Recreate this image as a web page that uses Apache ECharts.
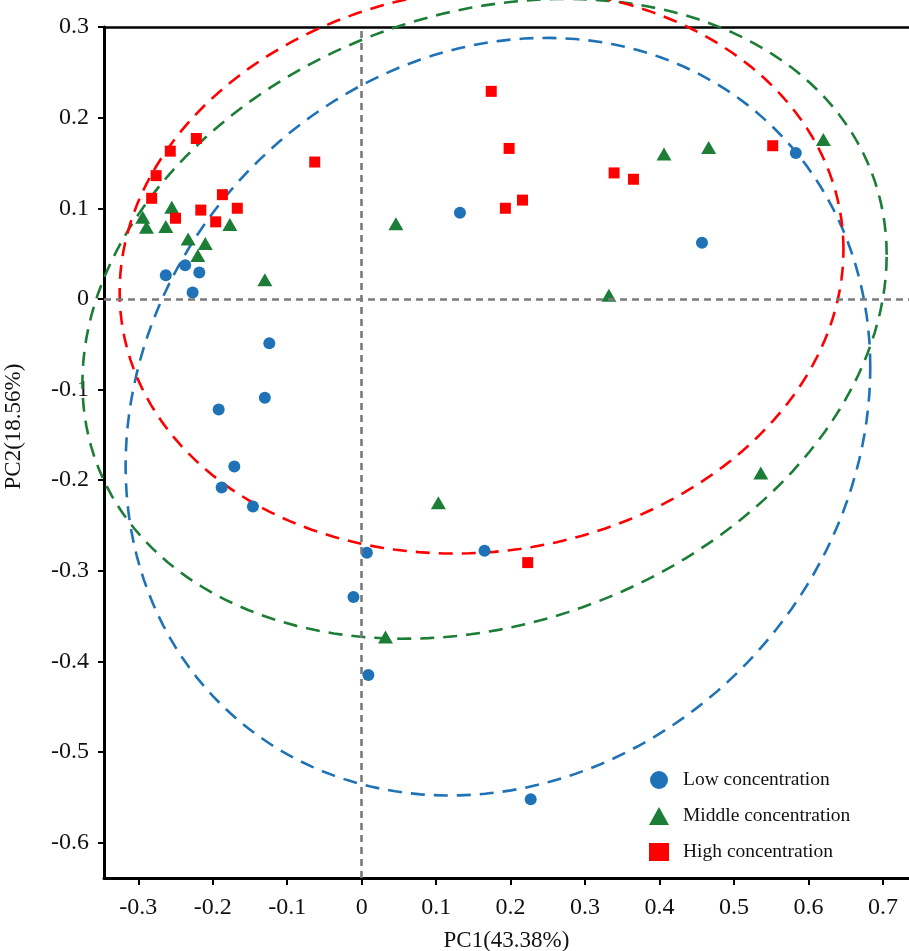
<!DOCTYPE html>
<html>
<head>
<meta charset="utf-8">
<title>PCA</title>
<script src="https://cdn.jsdelivr.net/npm/echarts@6/dist/echarts.min.js"></script>
<style>
  html,body{margin:0;padding:0;background:#fff;}
  #pca{width:909px;height:951px;}
</style>
</head>
<body>
<div id="pca"></div>
<script>
// 坐标轴刻度
var xTicks=[-0.3,-0.2,-0.1,0,0.1,0.2,0.3,0.4,0.5,0.6,0.7];
var yTicks=[-0.6,-0.5,-0.4,-0.3,-0.2,-0.1,0,0.1,0.2,0.3];

// 低浓度
var lowPts=[
  [-0.263,0.026],[-0.237,0.037],[-0.218,0.029],[-0.227,0.007],
  [-0.124,-0.049],[-0.130,-0.109],[-0.192,-0.122],[-0.171,-0.185],
  [-0.188,-0.208],[-0.146,-0.229],[0.007,-0.280],[-0.011,-0.329],
  [0.009,-0.415],[0.165,-0.278],[0.227,-0.552],[0.132,0.095],
  [0.457,0.062],[0.583,0.161]
];
// 中浓度
var midPts=[
  [-0.294,0.090],[-0.289,0.079],[-0.255,0.101],[-0.263,0.080],
  [-0.177,0.082],[-0.233,0.066],[-0.210,0.061],[-0.220,0.048],
  [-0.130,0.021],[0.046,0.083],[0.332,0.004],[0.406,0.160],
  [0.466,0.167],[0.620,0.176],[0.536,-0.192],[0.103,-0.225],
  [0.032,-0.373]
];
// 高浓度
var highPts=[
  [-0.222,0.177],[-0.257,0.163],[-0.276,0.136],[-0.282,0.111],
  [-0.250,0.089],[-0.216,0.098],[-0.187,0.115],[-0.167,0.100],
  [-0.196,0.085],[-0.063,0.151],[0.174,0.229],[0.198,0.166],
  [0.193,0.100],[0.216,0.109],[0.339,0.139],[0.365,0.132],
  [0.552,0.169],[0.223,-0.291]
];

// 置信椭圆: 中心, 半轴(x,y), 倾斜系数  (低, 中, 高)
var ellipseCenters=[[0.183,-0.130],[0.165,-0.022],[0.161,0.031]];
var ellipseRadii=[[0.500,0.418],[0.540,0.353],[0.486,0.312]];
var ellipseTilt=[0.13,0.20,0.075];

var names=['Low concentration','Middle concentration','High concentration'];
var colors=['#1f72b6','#1c7d36','#ff0000'];
var font='Liberation Serif';

var chart=echarts.init(document.getElementById('pca'));

// 画椭圆
var drawEllipse=function(params,api){
  var i=params.dataIndex;
  var c=ellipseCenters[i],r=ellipseRadii[i],k=ellipseTilt[i];
  var pts=[];
  for(var s=0;s<=180;s++){
    var t=s/180*Math.PI*2;
    var x=c[0]+r[0]*Math.cos(t);
    var y=c[1]+r[1]*(k*Math.cos(t)+Math.sqrt(1-k*k)*Math.sin(t));
    pts.push(api.coord([x,y]));
  }
  return {
    type:'polyline',
    shape:{points:pts},
    style:{stroke:colors[i],fill:null,lineWidth:2.6,lineDash:[14,9]}
  };
};

chart.setOption({
  animation:false,
  grid:{left:104,top:27,right:0,bottom:73,containLabel:false,outerBoundsMode:'none'},
  legend:{
    orient:'vertical',
    left:644,
    top:765,
    itemWidth:20,
    itemHeight:18,
    itemGap:16,
    data:[
      {name:names[0],icon:'circle'},
      {name:names[1],icon:'triangle'},
      {name:names[2],icon:'rect'}
    ],
    textStyle:{fontFamily:font,fontSize:19.5,color:'#111',padding:[0,0,0,9]}
  },
  xAxis:[
    {
      type:'value',
      min:-0.346,
      max:0.735,
      name:'PC1(43.38%)',
      nameLocation:'middle',
      nameGap:51,
      nameTextStyle:{fontFamily:font,fontSize:23,color:'#111'},
      axisLine:{onZero:false,lineStyle:{color:'#000',width:3}},
      axisTick:{show:true,length:7,lineStyle:{color:'#000',width:2},customValues:xTicks},
      axisLabel:{fontFamily:font,fontSize:24,color:'#111',margin:18,customValues:xTicks},
      splitLine:{show:false}
    },
    {
      type:'value',
      position:'top',
      min:-0.346,
      max:0.735,
      axisLine:{show:true,onZero:false,lineStyle:{color:'#000',width:2.5}},
      axisTick:{show:false},
      axisLabel:{show:false},
      splitLine:{show:false}
    }
  ],
  yAxis:{
    type:'value',
    min:-0.639,
    max:0.3,
    name:'PC2(18.56%)',
    nameLocation:'middle',
    nameGap:79,
    nameTextStyle:{fontFamily:font,fontSize:23,color:'#111',padding:[0,0,0,52]},
    axisLine:{show:true,onZero:false,lineStyle:{color:'#000',width:3}},
    axisTick:{show:true,length:6,lineStyle:{color:'#000',width:2},customValues:yTicks},
    axisLabel:{fontFamily:font,fontSize:24,color:'#111',margin:15,customValues:yTicks},
    splitLine:{show:false}
  },
  series:[
    {
      type:'custom',
      clip:false,
      silent:true,
      renderItem:drawEllipse,
      data:ellipseCenters,
      z:1
    },
    {
      name:names[0],
      type:'scatter',
      symbol:'circle',
      symbolSize:12,
      itemStyle:{color:colors[0],opacity:1},
      data:lowPts,
      z:3,
      markLine:{
        silent:true,
        symbol:'none',
        label:{show:false},
        lineStyle:{color:'#7a7a7a',width:2.6,type:[7,5]},
        data:[{xAxis:0},{yAxis:0}]
      }
    },
    {
      name:names[1],
      type:'scatter',
      symbol:'triangle',
      symbolSize:[15,13],
      itemStyle:{color:colors[1],opacity:1},
      data:midPts,
      z:3
    },
    {
      name:names[2],
      type:'scatter',
      symbol:'rect',
      symbolSize:11,
      itemStyle:{color:colors[2],opacity:1},
      data:highPts,
      z:3
    }
  ]
});
</script>
</body>
</html>
